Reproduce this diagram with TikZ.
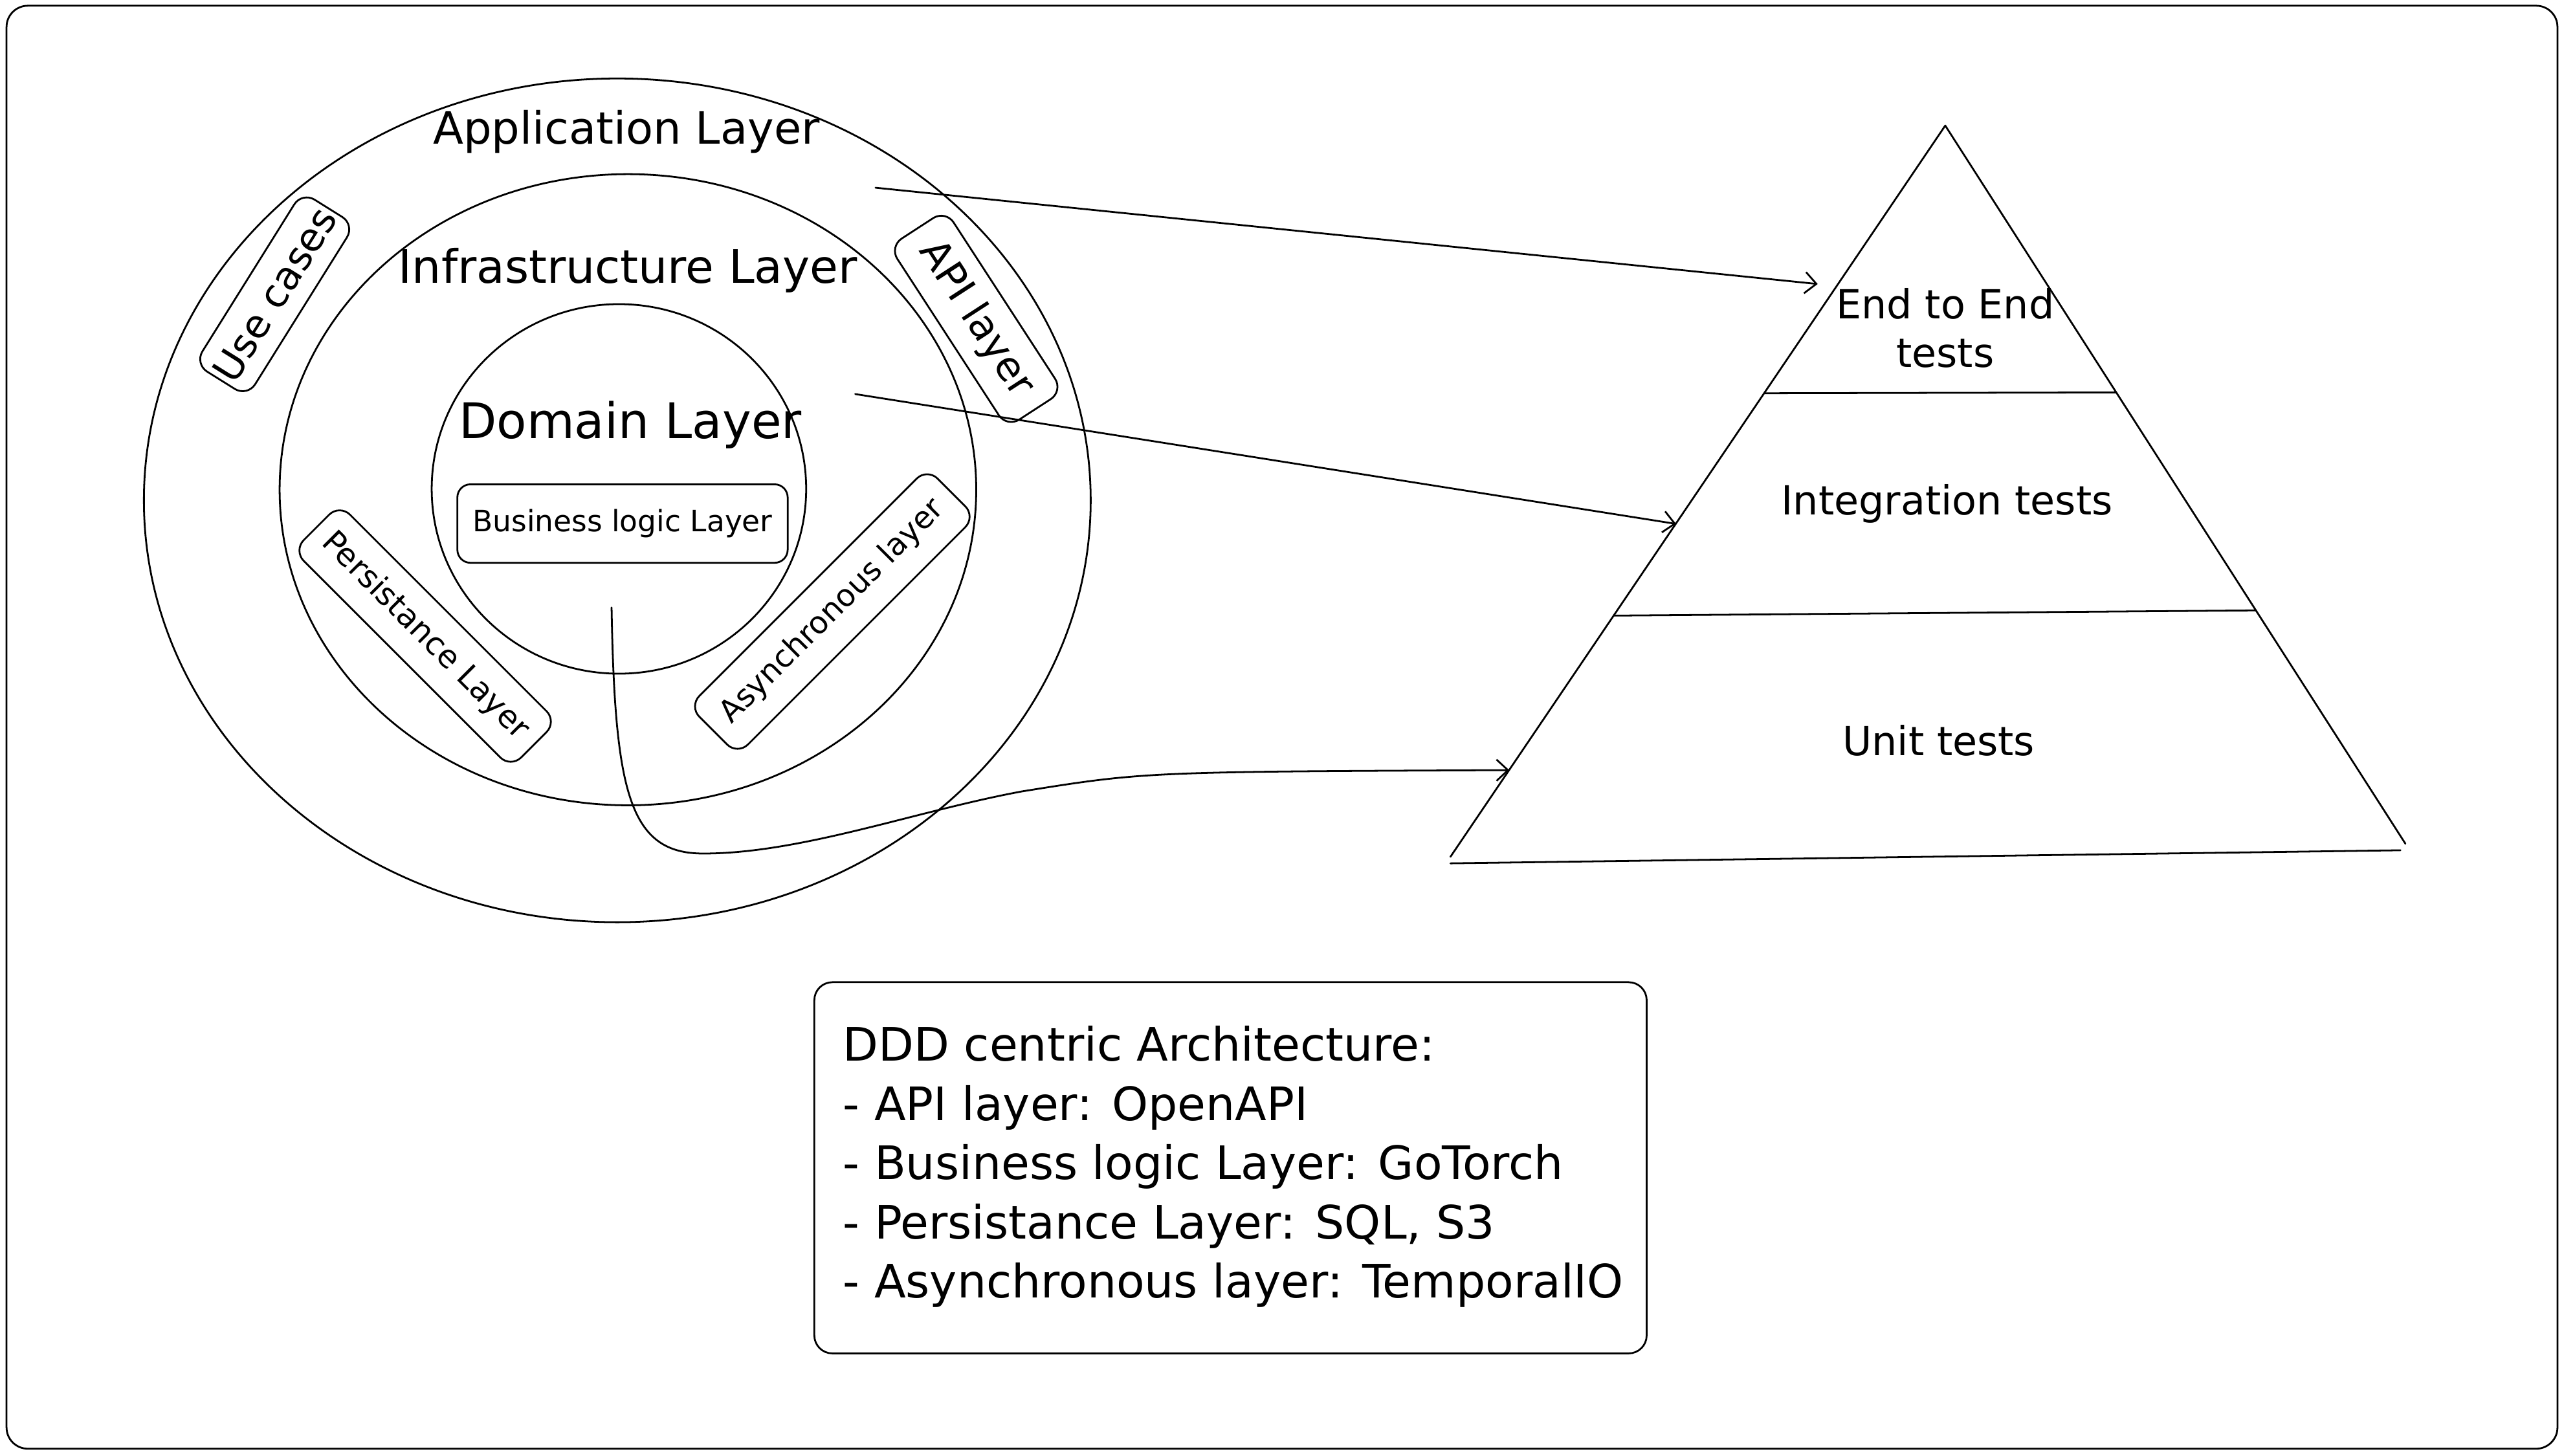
\documentclass[tikz,border=0pt]{standalone}
\usepackage{fontspec}
\setmainfont{DejaVu Sans}
\usetikzlibrary{arrows.meta,shapes.geometric}
\newcommand{\fsz}[1]{\fontsize{#1}{#1}\selectfont}
\begin{document}
\begin{tikzpicture}[x=1pt,y=-1pt,line width=1.1pt,line join=round,line cap=round,
  ring/.style={draw,ellipse,inner sep=0pt,outer sep=0pt},
  layertext/.style={inner sep=0pt,anchor=base,font=\fsz{27.2}},
  rbox/.style={draw,rounded corners=9pt,inner sep=0pt,outer sep=0pt,align=center},
  ptext/.style={inner sep=0pt,anchor=base,font=\fsz{24.5},align=center},
  btext/.style={inner sep=0pt,anchor=base west,font=\fsz{28.2}},
  arr/.style={-{Straight Barb[length=7pt,width=13pt,line width=1.1pt]}}]
\useasboundingbox (0,0) rectangle (1568,890.4);
\draw[rounded corners=13pt] (4,3.5) rectangle (1564,886);

% rings
\node[ring,minimum width=579pt,minimum height=516pt] (app) at (377.5,306) {};
\node[ring,minimum width=426pt,minimum height=386pt] (infra) at (384,299.5) {};
\node[ring,minimum width=229pt,minimum height=226pt] (dom) at (378.5,299) {};

\node[layertext] (apptxt) at (383,88) {Application Layer};
\node[layertext,font=\fsz{28.2}] (infratxt) at (384,173) {Infrastructure Layer};
\node[layertext,font=\fsz{30}] (domtxt) at (385.5,268) {Domain Layer};

\node[rbox,rounded corners=8pt,minimum width=202pt,minimum height=48pt,font=\fsz{18}] (biz) at (380.7,320.2) {Business logic Layer};

\node[rbox,minimum width=124pt,minimum height=38pt,rotate=58,font=\fsz{24}] (uc) at (168,180) {Use cases};
\node[rbox,minimum width=132pt,minimum height=41pt,rotate=-57,font=\fsz{24.5}] (api) at (597,195) {API layer};
\node[rbox,minimum width=188pt,minimum height=40pt,rotate=-45,font=\fsz{19.3}] (pers) at (260,389) {Persistance Layer};
\node[rbox,minimum width=206pt,minimum height=42pt,rotate=45,font=\fsz{18.8}] (async) at (509,374) {Asynchronous layer};

% pyramid
\coordinate (apex) at (1189.6,76.8);
\coordinate (bl) at (887,524);
\coordinate (br) at (1471,516);
\coordinate (bl2) at (887,528);
\coordinate (br2) at (1468,520);
\coordinate (d1l) at (1079.2,240.5);
\coordinate (d1r) at (1294.2,240);
\coordinate (d2l) at (986.8,376.5);
\coordinate (d2r) at (1379.6,373.3);
\draw (bl) -- (apex) -- (br);
\draw (bl2) -- (br2);
\draw (d1l) -- (d1r);
\draw (d2l) -- (d2r);

\node[ptext] (e2e1) at (1189.6,195) {End to End};
\node[ptext] (e2e2) at (1189.6,224.4) {tests};
\node[ptext] (integ) at (1190.7,315) {Integration tests};
\node[ptext] (unit) at (1185.6,462) {Unit tests};

% arrows
\coordinate (a1s) at (535.4,114.8);
\coordinate (a1e) at (1111.6,173.7);
\coordinate (a2s) at (523,241);
\coordinate (a2e) at (1025,320.4);
\coordinate (a3s) at (374,371.5);
\coordinate (a3e) at (923,471);
\draw[arr] (a1s) -- (a1e);
\draw[arr] (a2s) -- (a2e);
\draw[arr] (a3s) .. controls (376,485) and (385,522) .. (430,522)
  .. controls (490,522) and (560,496) .. (625,484)
  .. controls (700,472) .. (a3e);

% description box
\node[draw,rounded corners=11pt,inner sep=0pt,minimum width=509pt,minimum height=227pt] (desc) at (752.5,714.2) {};
\node[btext] (l1) at (515,649) {DDD centric Architecture:};
\node[btext] (l2) at (515,685.2) {- API layer: OpenAPI};
\node[btext] (l3) at (515,721.4) {- Business logic Layer: GoTorch};
\node[btext] (l4) at (515,757.6) {- Persistance Layer: SQL, S3};
\node[btext] (l5) at (515,793.8) {- Asynchronous layer: TemporalIO};
\end{tikzpicture}
\end{document}
